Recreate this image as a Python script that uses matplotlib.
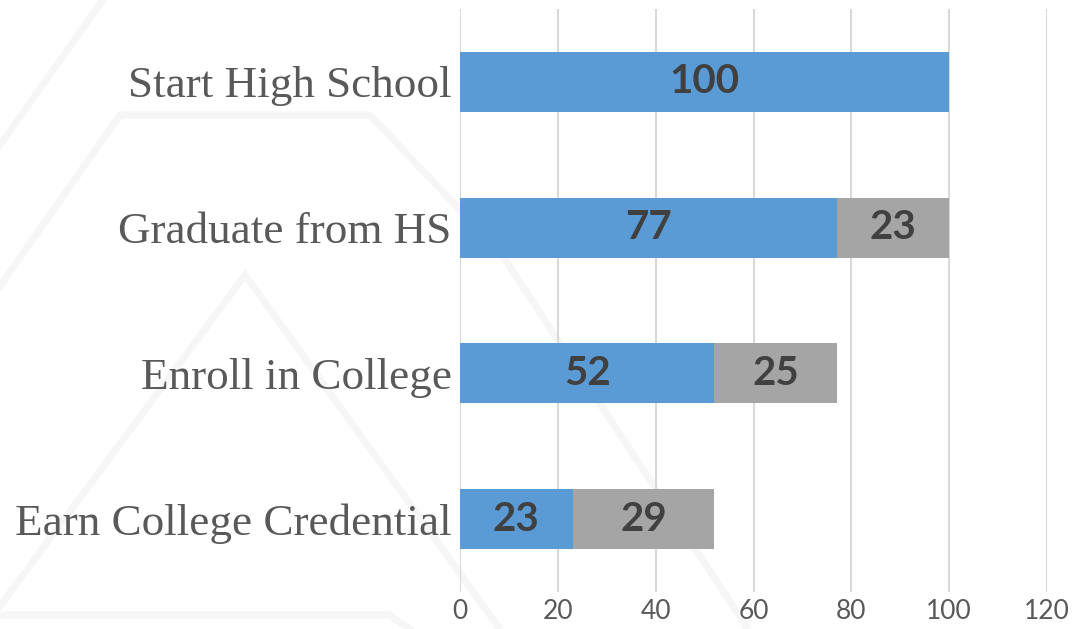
import matplotlib
matplotlib.use("Agg")
import matplotlib.pyplot as plt
from matplotlib.lines import Line2D

# datos del embudo
etapas = ["Start High School", "Graduate from HS", "Enroll in College", "Earn College Credential"]
siguen = [100, 77, 52, 23]
perdidos = [0, 23, 25, 29]
ticks_x = [0, 20, 40, 60, 80, 100, 120]

azul = "#5B9BD5"
gris = "#A5A5A5"

W, H = 1072, 629
fig = plt.figure(figsize=(W / 100, H / 100), dpi=100)
fig.patch.set_facecolor("white")

# marca de agua tenue del fondo (en pixeles, y hacia abajo)
trazos = [
    [(0, 145), (103, 0)],
    [(0, 286), (120, 115), (370, 115), (500, 252), (748, 629)],
    [(0, 606), (245, 275), (500, 629)],
    [(0, 615), (389, 615), (410, 629)],
]
for tr in trazos:
    xs = [p[0] / W for p in tr]
    ys = [1 - p[1] / H for p in tr]
    fig.add_artist(Line2D(xs, ys, transform=fig.transFigure, color="#F6F6F6",
                          lw=5, solid_joinstyle="miter", zorder=0))

ax = fig.add_axes([460 / W, 1 - 592 / H, 587 / W, 583 / H])
ax.set_facecolor("none")

y = list(range(len(etapas)))
ax.barh(y, siguen, height=0.41, color=azul, zorder=3)
ax.barh(y, perdidos, left=siguen, height=0.41, color=gris, zorder=3)

for i in y:
    ax.text(siguen[i] / 2, i, str(siguen[i]), ha="center", va="center",
            fontsize=29, fontweight="bold", color="#404040", family="Lato", zorder=4)
    if perdidos[i] > 0:
        ax.text(siguen[i] + perdidos[i] / 2, i, str(perdidos[i]), ha="center", va="center",
                fontsize=29, fontweight="bold", color="#404040", family="Lato", zorder=4)

ax.set_xlim(0, 120)
ax.set_ylim(len(etapas) - 0.5, -0.5)
ax.set_xticks(ticks_x)
ax.set_yticks(y)
ax.set_yticklabels(etapas, family="Liberation Serif", fontsize=32.5, color="#595959")
for t in ax.get_xticklabels():
    t.set_family("Lato")
    t.set_fontsize(19)
    t.set_color("#595959")
ax.tick_params(axis="both", length=0)
ax.tick_params(axis="y", pad=6)
ax.tick_params(axis="x", pad=5)
ax.grid(axis="x", color="#D9D9D9", lw=1.5, zorder=0)
for s in ax.spines.values():
    s.set_visible(False)

fig.savefig("out.png", dpi=100)
